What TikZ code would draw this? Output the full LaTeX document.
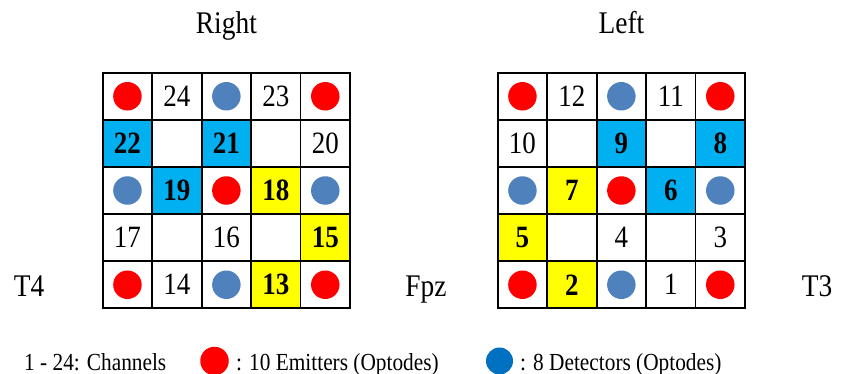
\documentclass[tikz,border=0pt]{standalone}
\usepackage{fontspec}
\setmainfont[FakeStretch=0.87]{Liberation Serif}
\definecolor{cyanbox}{HTML}{00B0F0}
\definecolor{yellowbox}{HTML}{FFFF00}
\definecolor{emitred}{HTML}{FF0000}
\definecolor{detblue}{HTML}{4F81BD}
\definecolor{legblue}{HTML}{0070C0}
\newcommand\numfont{\fontsize{31}{34}\selectfont}
\newcommand\legfont{\fontsize{24.5}{27}\selectfont}
% cell: grid name, row, col, extra style, text
\newcommand\gcell[5]{\node[cellbox,#4] (#1-#2-#3) at (#3-0.5,#2-0.5) {#5};}
\newcommand\gemit[3]{\node[emit] (#1-e-#2-#3) at (#1-#2-#3) {};}
\newcommand\gdet[3]{\node[det] (#1-d-#2-#3) at (#1-#2-#3) {};}
\tikzset{
  cellbox/.style={draw=black, line width=1.8pt, minimum width=49.46pt, minimum height=47.12pt, inner sep=0pt, font=\numfont},
  hc/.style={fill=cyanbox, font=\numfont\bfseries},
  hy/.style={fill=yellowbox, font=\numfont\bfseries},
  emit/.style={circle, fill=emitred, minimum size=28.5pt, inner sep=0pt},
  det/.style={circle, fill=detblue, minimum size=28.5pt, inner sep=0pt},
  title/.style={anchor=base, font=\fontsize{31.5}{34}\selectfont, inner sep=0pt},
  leg/.style={anchor=base west, font=\legfont, inner sep=0pt}
}
\begin{document}
\begin{tikzpicture}[x=1pt,y=-1pt]
\useasboundingbox (0,0) rectangle (842,374);
% ---------- Right grid ----------
\begin{scope}[shift={(102.7,72.7)}, x=49.46pt, y=-47.12pt]
\gcell{R}{1}{1}{}{} \gcell{R}{1}{2}{}{24} \gcell{R}{1}{3}{}{} \gcell{R}{1}{4}{}{23} \gcell{R}{1}{5}{}{}
\gcell{R}{2}{1}{hc}{22} \gcell{R}{2}{2}{}{} \gcell{R}{2}{3}{hc}{21} \gcell{R}{2}{4}{}{} \gcell{R}{2}{5}{}{20}
\gcell{R}{3}{1}{}{} \gcell{R}{3}{2}{hc}{19} \gcell{R}{3}{3}{}{} \gcell{R}{3}{4}{hy}{18} \gcell{R}{3}{5}{}{}
\gcell{R}{4}{1}{}{17} \gcell{R}{4}{2}{}{} \gcell{R}{4}{3}{}{16} \gcell{R}{4}{4}{}{} \gcell{R}{4}{5}{hy}{15}
\gcell{R}{5}{1}{}{} \gcell{R}{5}{2}{}{14} \gcell{R}{5}{3}{}{} \gcell{R}{5}{4}{hy}{13} \gcell{R}{5}{5}{}{}
\gemit{R}{1}{1} \gdet{R}{1}{3} \gemit{R}{1}{5}
\gdet{R}{3}{1} \gemit{R}{3}{3} \gdet{R}{3}{5}
\gemit{R}{5}{1} \gdet{R}{5}{3} \gemit{R}{5}{5}
\end{scope}
% ---------- Left grid ----------
\begin{scope}[shift={(497.7,72.7)}, x=49.46pt, y=-47.12pt]
\gcell{L}{1}{1}{}{} \gcell{L}{1}{2}{}{12} \gcell{L}{1}{3}{}{} \gcell{L}{1}{4}{}{11} \gcell{L}{1}{5}{}{}
\gcell{L}{2}{1}{}{10} \gcell{L}{2}{2}{}{} \gcell{L}{2}{3}{hc}{9} \gcell{L}{2}{4}{}{} \gcell{L}{2}{5}{hc}{8}
\gcell{L}{3}{1}{}{} \gcell{L}{3}{2}{hy}{7} \gcell{L}{3}{3}{}{} \gcell{L}{3}{4}{hc}{6} \gcell{L}{3}{5}{}{}
\gcell{L}{4}{1}{hy}{5} \gcell{L}{4}{2}{}{} \gcell{L}{4}{3}{}{4} \gcell{L}{4}{4}{}{} \gcell{L}{4}{5}{}{3}
\gcell{L}{5}{1}{}{} \gcell{L}{5}{2}{hy}{2} \gcell{L}{5}{3}{}{} \gcell{L}{5}{4}{}{1} \gcell{L}{5}{5}{}{}
\gemit{L}{1}{1} \gdet{L}{1}{3} \gemit{L}{1}{5}
\gdet{L}{3}{1} \gemit{L}{3}{3} \gdet{L}{3}{5}
\gemit{L}{5}{1} \gdet{L}{5}{3} \gemit{L}{5}{5}
\end{scope}
% ---------- labels ----------
\node[title] (tright) at (226.4,34) {Right};
\node[title] (tleft) at (621.4,34) {Left};
\node[title] (t4) at (29,296.5) {T4};
\node[title] (fpz) at (426,296.5) {Fpz};
\node[title] (t3) at (817,296.5) {T3};
% ---------- legend ----------
\node[leg] (lchan) at (24,370) {1 - 24: Channels};
\node[emit] (lemit) at (214.5,361) {};
\node[leg] (lemittxt) at (236,370) {: 10 Emitters (Optodes)};
\node[det, fill=legblue, minimum size=27pt] (ldet) at (499.5,361) {};
\node[leg] (ldettxt) at (520,370) {: 8 Detectors (Optodes)};
\end{tikzpicture}
\end{document}
